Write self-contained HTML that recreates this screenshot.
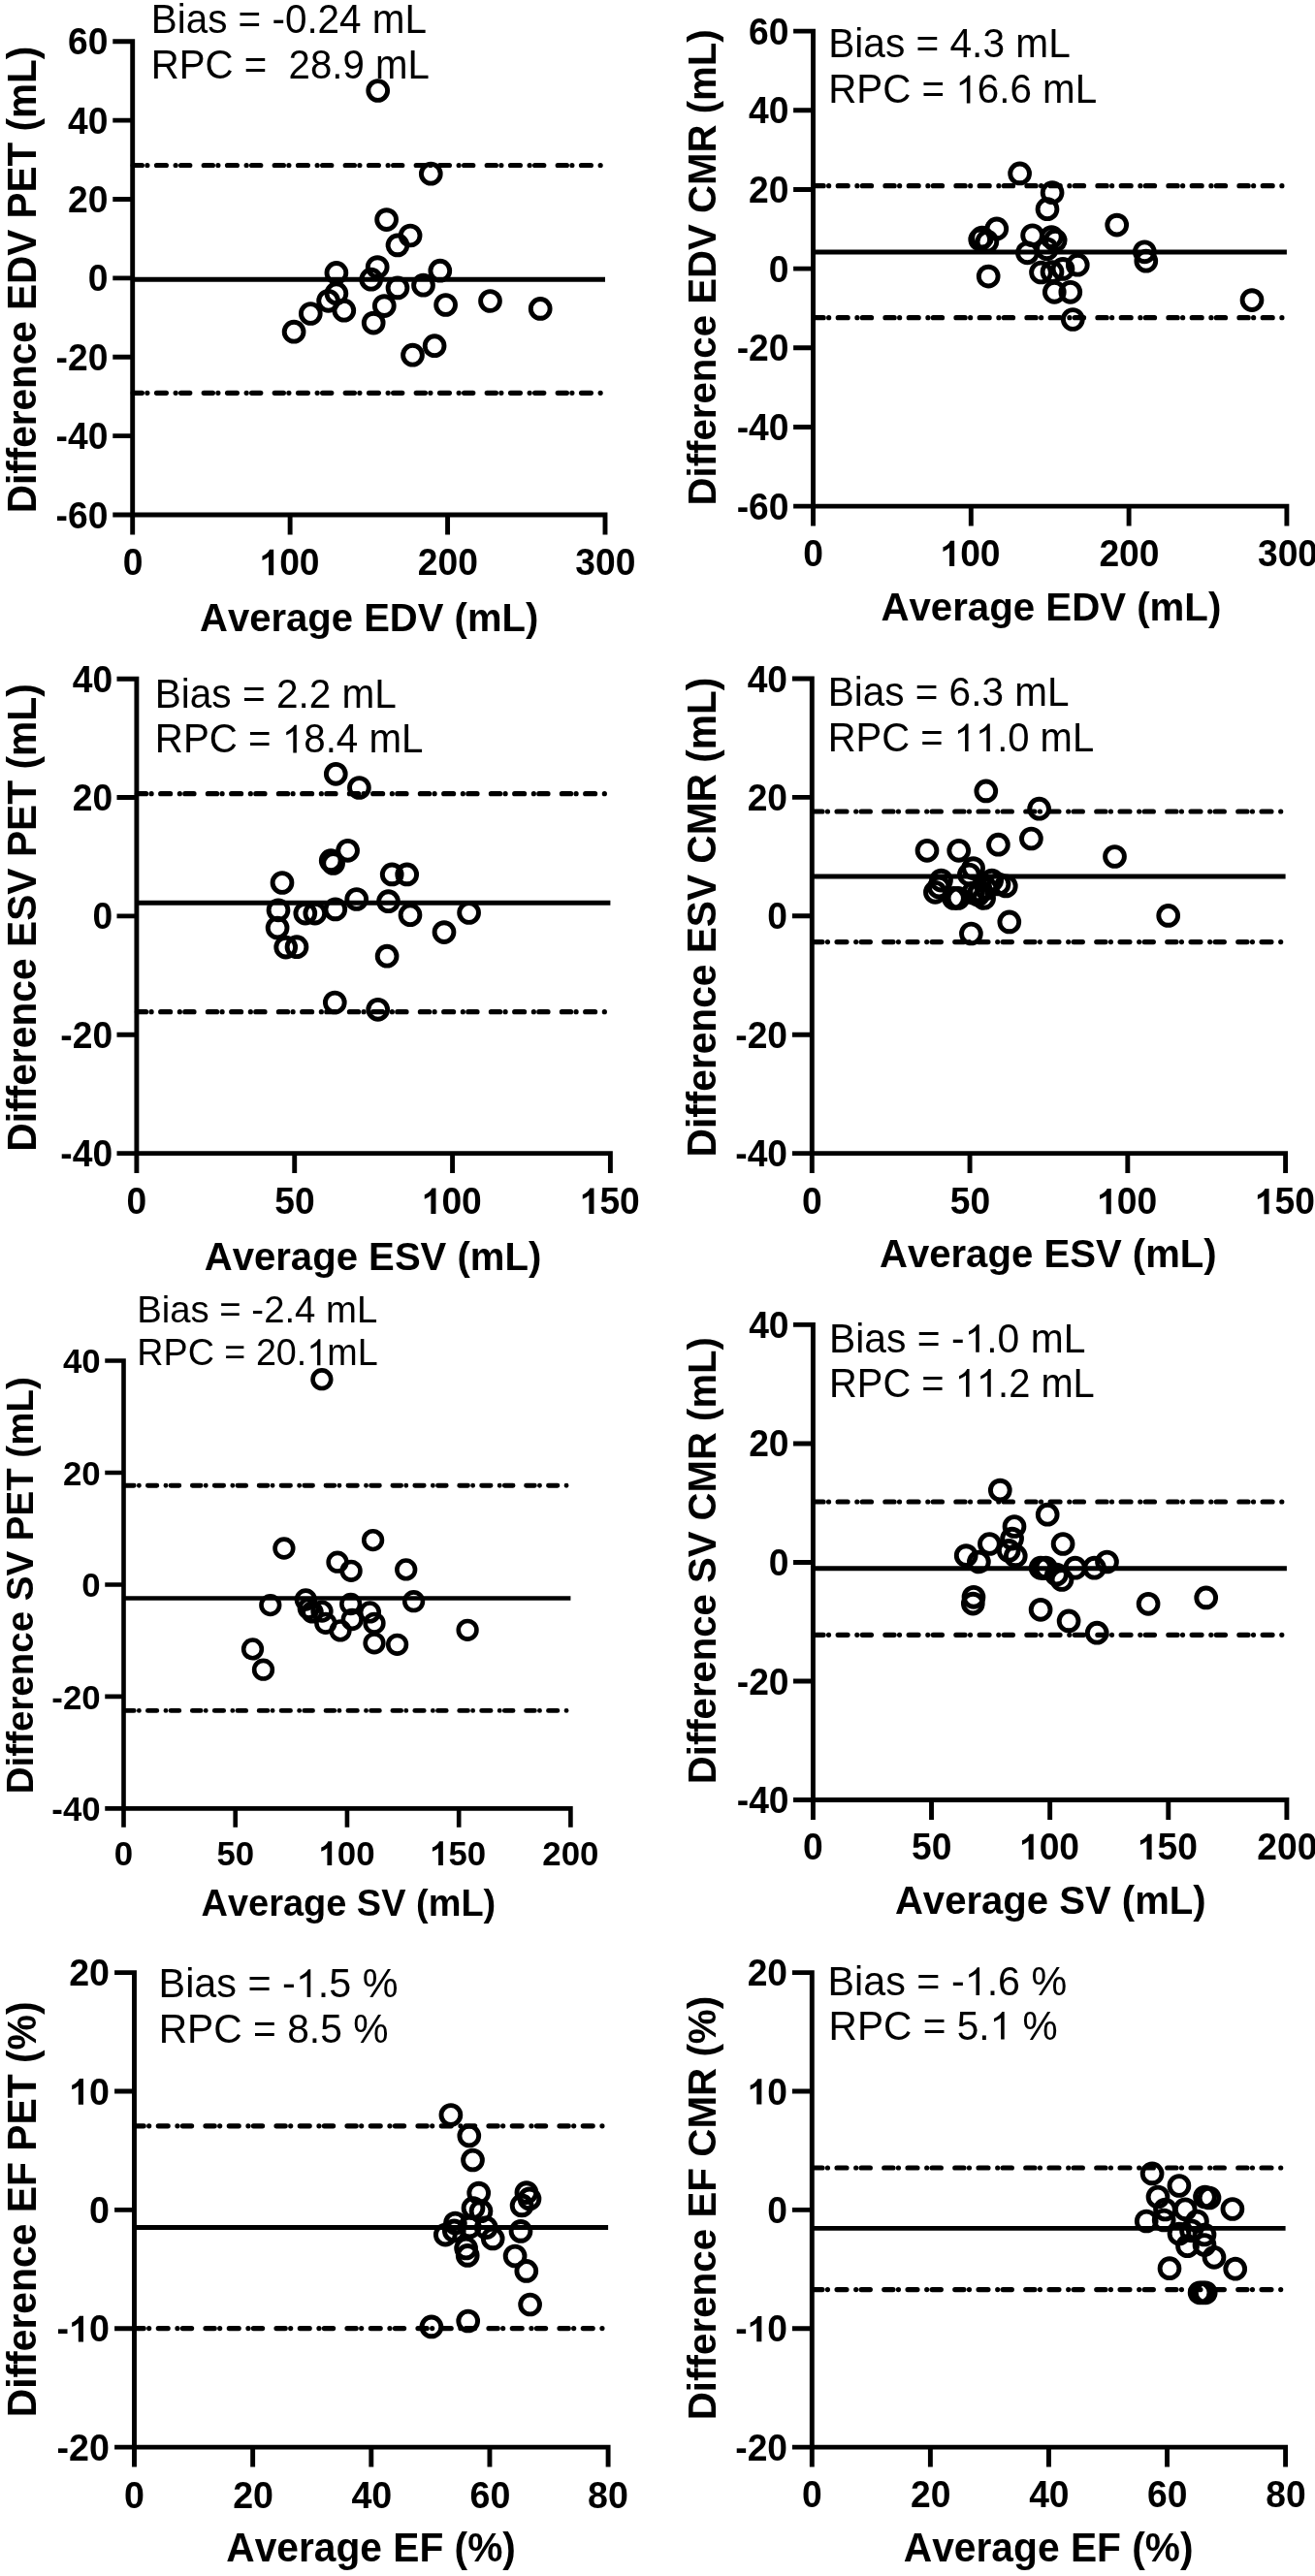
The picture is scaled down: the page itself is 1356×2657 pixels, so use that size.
<!DOCTYPE html>
<html><head><meta charset="utf-8"><title>Bland-Altman plots</title>
<style>
html,body{margin:0;padding:0;background:#fff;}
body{width:1356px;height:2657px;overflow:hidden;}
svg{display:block;filter:grayscale(100%);}
text{font-family:"Liberation Sans",sans-serif;fill:#000;}
</style></head><body>
<svg width="1356" height="2657" viewBox="0 0 1356 2657">
<rect width="1356" height="2657" fill="#fff"/>
<g id="shapes">
<path d="M116.3 42.8H136.7V551.4M116.3 531H624V551.4M116.3 124.17H136.7M116.3 205.53H136.7M116.3 286.9H136.7M116.3 368.27H136.7M116.3 449.63H136.7M299.13 531V551.4M461.57 531V551.4" fill="none" stroke="#000" stroke-width="4.9" stroke-linejoin="miter" stroke-linecap="butt"/>
<path d="M136.7 288.2H624" stroke="#000" stroke-width="4.9"/>
<path d="M136.7 170.5H622" stroke="#000" stroke-width="5.2" stroke-linecap="round" stroke-dasharray="9.2 5.5 0 9.6 9.9 9.75 0 5.45 9.2 14.4" stroke-dashoffset="72.5" fill="none"/>
<path d="M136.7 405.3H622" stroke="#000" stroke-width="5.2" stroke-linecap="round" stroke-dasharray="9.2 5.5 0 9.6 9.9 9.75 0 5.45 9.2 14.4" stroke-dashoffset="72.5" fill="none"/>
<g fill="none" stroke="#000" stroke-width="4.9"><circle cx="389.7" cy="93.5" r="9.9"/><circle cx="444.3" cy="179.2" r="9.9"/><circle cx="398.6" cy="226.6" r="9.9"/><circle cx="423.1" cy="243" r="9.9"/><circle cx="410" cy="252.9" r="9.9"/><circle cx="346.9" cy="281.4" r="9.9"/><circle cx="389.2" cy="275.6" r="9.9"/><circle cx="382.7" cy="288.2" r="9.9"/><circle cx="453.8" cy="279.2" r="9.9"/><circle cx="410" cy="296.9" r="9.9"/><circle cx="436.5" cy="294.2" r="9.9"/><circle cx="346.9" cy="302.7" r="9.9"/><circle cx="338.6" cy="310.3" r="9.9"/><circle cx="320.3" cy="323.5" r="9.9"/><circle cx="354.8" cy="320.2" r="9.9"/><circle cx="396.3" cy="315.6" r="9.9"/><circle cx="459.6" cy="314.5" r="9.9"/><circle cx="303.1" cy="342.2" r="9.9"/><circle cx="385.2" cy="333.1" r="9.9"/><circle cx="448.1" cy="356.7" r="9.9"/><circle cx="425.5" cy="366.2" r="9.9"/><circle cx="505.5" cy="310.5" r="9.9"/><circle cx="557.2" cy="318.4" r="9.9"/></g>
<path d="M818.1 32.1H838.5V542.5M818.1 522.1H1326.9V542.5M818.1 113.77H838.5M818.1 195.43H838.5M818.1 277.1H838.5M818.1 358.77H838.5M818.1 440.43H838.5M1001.3 522.1V542.5M1164.1 522.1V542.5" fill="none" stroke="#000" stroke-width="4.9" stroke-linejoin="miter" stroke-linecap="butt"/>
<path d="M838.5 260H1326.9" stroke="#000" stroke-width="4.9"/>
<path d="M838.5 191.7H1324.9" stroke="#000" stroke-width="5.2" stroke-linecap="round" stroke-dasharray="9.2 5.5 0 9.6 9.9 9.75 0 5.45 9.2 14.4" stroke-dashoffset="71.55" fill="none"/>
<path d="M838.5 327.7H1324.9" stroke="#000" stroke-width="5.2" stroke-linecap="round" stroke-dasharray="9.2 5.5 0 9.6 9.9 9.75 0 5.45 9.2 14.4" stroke-dashoffset="71.55" fill="none"/>
<g fill="none" stroke="#000" stroke-width="4.9"><circle cx="1051.6" cy="178.9" r="9.9"/><circle cx="1085.1" cy="198.7" r="9.9"/><circle cx="1080" cy="215.7" r="9.9"/><circle cx="1027.8" cy="235.9" r="9.9"/><circle cx="1151.7" cy="232.1" r="9.9"/><circle cx="1010.7" cy="247" r="9.9"/><circle cx="1012.6" cy="245" r="9.9"/><circle cx="1017.9" cy="249.2" r="9.9"/><circle cx="1064.6" cy="242.8" r="9.9"/><circle cx="1084.3" cy="244.6" r="9.9"/><circle cx="1088.2" cy="248.1" r="9.9"/><circle cx="1079.5" cy="256.8" r="9.9"/><circle cx="1059.4" cy="260.8" r="9.9"/><circle cx="1019.2" cy="285.1" r="9.9"/><circle cx="1073.5" cy="281" r="9.9"/><circle cx="1085" cy="280.5" r="9.9"/><circle cx="1096" cy="277.4" r="9.9"/><circle cx="1111.3" cy="273.2" r="9.9"/><circle cx="1087.3" cy="301.3" r="9.9"/><circle cx="1103.8" cy="301.3" r="9.9"/><circle cx="1106.3" cy="329.5" r="9.9"/><circle cx="1180.3" cy="259.8" r="9.9"/><circle cx="1181.8" cy="269.2" r="9.9"/><circle cx="1291" cy="309.6" r="9.9"/></g>
<path d="M120.5 700.2H140.9V1210M120.5 1189.6H629.4V1210M120.5 822.55H140.9M120.5 944.9H140.9M120.5 1067.25H140.9M303.73 1189.6V1210M466.57 1189.6V1210" fill="none" stroke="#000" stroke-width="4.9" stroke-linejoin="miter" stroke-linecap="butt"/>
<path d="M140.9 931.3H629.4" stroke="#000" stroke-width="4.9"/>
<path d="M140.9 818.7H627.4" stroke="#000" stroke-width="5.2" stroke-linecap="round" stroke-dasharray="9.2 5.5 0 9.6 9.9 9.75 0 5.45 9.2 14.4" stroke-dashoffset="72.5" fill="none"/>
<path d="M140.9 1043.7H627.4" stroke="#000" stroke-width="5.2" stroke-linecap="round" stroke-dasharray="9.2 5.5 0 9.6 9.9 9.75 0 5.45 9.2 14.4" stroke-dashoffset="72.5" fill="none"/>
<g fill="none" stroke="#000" stroke-width="4.9"><circle cx="346.3" cy="798.3" r="9.9"/><circle cx="370.4" cy="812.5" r="9.9"/><circle cx="358.6" cy="877.3" r="9.9"/><circle cx="341.2" cy="887.7" r="9.9"/><circle cx="343.6" cy="890.4" r="9.9"/><circle cx="291" cy="910.5" r="9.9"/><circle cx="404.2" cy="901.9" r="9.9"/><circle cx="419.7" cy="901.9" r="9.9"/><circle cx="367.7" cy="927.5" r="9.9"/><circle cx="400.5" cy="929.7" r="9.9"/><circle cx="287" cy="938.8" r="9.9"/><circle cx="314.8" cy="942.1" r="9.9"/><circle cx="324.8" cy="942.1" r="9.9"/><circle cx="345.8" cy="937.9" r="9.9"/><circle cx="423" cy="943.7" r="9.9"/><circle cx="483.6" cy="941.5" r="9.9"/><circle cx="286.1" cy="957" r="9.9"/><circle cx="458" cy="961.6" r="9.9"/><circle cx="294.7" cy="977.1" r="9.9"/><circle cx="306" cy="976.7" r="9.9"/><circle cx="399.1" cy="986.2" r="9.9"/><circle cx="345.3" cy="1034" r="9.9"/><circle cx="389.7" cy="1041.3" r="9.9"/></g>
<path d="M816.9 700H837.3V1210M816.9 1189.6H1325.6V1210M816.9 822.4H837.3M816.9 944.8H837.3M816.9 1067.2H837.3M1000.07 1189.6V1210M1162.83 1189.6V1210" fill="none" stroke="#000" stroke-width="4.9" stroke-linejoin="miter" stroke-linecap="butt"/>
<path d="M837.3 904H1325.6" stroke="#000" stroke-width="4.9"/>
<path d="M837.3 837H1323.6" stroke="#000" stroke-width="5.2" stroke-linecap="round" stroke-dasharray="9.2 5.5 0 9.6 9.9 9.75 0 5.45 9.2 14.4" stroke-dashoffset="71.55" fill="none"/>
<path d="M837.3 971.6H1323.6" stroke="#000" stroke-width="5.2" stroke-linecap="round" stroke-dasharray="9.2 5.5 0 9.6 9.9 9.75 0 5.45 9.2 14.4" stroke-dashoffset="71.55" fill="none"/>
<g fill="none" stroke="#000" stroke-width="4.9"><circle cx="1016.8" cy="815.9" r="9.9"/><circle cx="1071.6" cy="834.2" r="9.9"/><circle cx="956" cy="877.3" r="9.9"/><circle cx="988.7" cy="877.3" r="9.9"/><circle cx="1029.4" cy="871.2" r="9.9"/><circle cx="1063.4" cy="865" r="9.9"/><circle cx="1003.6" cy="895.6" r="9.9"/><circle cx="999.4" cy="902" r="9.9"/><circle cx="970.5" cy="908.1" r="9.9"/><circle cx="968.3" cy="915" r="9.9"/><circle cx="964.4" cy="920.3" r="9.9"/><circle cx="983.5" cy="926.4" r="9.9"/><circle cx="988" cy="926.4" r="9.9"/><circle cx="1022.7" cy="908.1" r="9.9"/><circle cx="1037.3" cy="913.9" r="9.9"/><circle cx="1014.6" cy="926.4" r="9.9"/><circle cx="1010.8" cy="919.5" r="9.9"/><circle cx="1003.5" cy="921" r="9.9"/><circle cx="1008.5" cy="923" r="9.9"/><circle cx="1017" cy="916.5" r="9.9"/><circle cx="1030" cy="912" r="9.9"/><circle cx="1040.8" cy="950.9" r="9.9"/><circle cx="1001.4" cy="963" r="9.9"/><circle cx="1149.5" cy="883.5" r="9.9"/><circle cx="1204.7" cy="944.4" r="9.9"/></g>
<path d="M108.26 1403.5H127.5V1884.64M108.26 1865.4H588.4V1884.64M108.26 1518.97H127.5M108.26 1634.45H127.5M108.26 1749.93H127.5M242.72 1865.4V1884.64M357.95 1865.4V1884.64M473.18 1865.4V1884.64" fill="none" stroke="#000" stroke-width="4.62" stroke-linejoin="miter" stroke-linecap="butt"/>
<path d="M127.5 1648.5H588.4" stroke="#000" stroke-width="4.62"/>
<path d="M127.5 1532.2H586.51" stroke="#000" stroke-width="4.9" stroke-linecap="round" stroke-dasharray="8.68 5.19 0 9.05 9.34 9.19 0 5.14 8.68 13.58" stroke-dashoffset="66.84" fill="none"/>
<path d="M127.5 1764.4H586.51" stroke="#000" stroke-width="4.9" stroke-linecap="round" stroke-dasharray="8.68 5.19 0 9.05 9.34 9.19 0 5.14 8.68 13.58" stroke-dashoffset="66.84" fill="none"/>
<g fill="none" stroke="#000" stroke-width="4.62"><circle cx="331.9" cy="1422.7" r="9.34"/><circle cx="292.9" cy="1597" r="9.34"/><circle cx="384.6" cy="1588.6" r="9.34"/><circle cx="348" cy="1611.2" r="9.34"/><circle cx="362.1" cy="1620.3" r="9.34"/><circle cx="418.7" cy="1618.9" r="9.34"/><circle cx="278.8" cy="1655.6" r="9.34"/><circle cx="315.3" cy="1650" r="9.34"/><circle cx="318.3" cy="1659.1" r="9.34"/><circle cx="322.1" cy="1662.9" r="9.34"/><circle cx="332" cy="1662.1" r="9.34"/><circle cx="361.7" cy="1654.5" r="9.34"/><circle cx="335.8" cy="1674.3" r="9.34"/><circle cx="351" cy="1681.9" r="9.34"/><circle cx="363.2" cy="1670.5" r="9.34"/><circle cx="381.4" cy="1662.9" r="9.34"/><circle cx="386" cy="1674.3" r="9.34"/><circle cx="386" cy="1694.8" r="9.34"/><circle cx="409.6" cy="1696.3" r="9.34"/><circle cx="426.6" cy="1651.7" r="9.34"/><circle cx="260.5" cy="1700.9" r="9.34"/><circle cx="271.5" cy="1722.2" r="9.34"/><circle cx="482.1" cy="1681.3" r="9.34"/></g>
<path d="M818 1366.4H838.4V1876.9M818 1856.5H1326.9V1876.9M818 1488.93H838.4M818 1611.45H838.4M818 1733.97H838.4M960.52 1856.5V1876.9M1082.65 1856.5V1876.9M1204.78 1856.5V1876.9" fill="none" stroke="#000" stroke-width="4.9" stroke-linejoin="miter" stroke-linecap="butt"/>
<path d="M838.4 1617.7H1326.9" stroke="#000" stroke-width="4.9"/>
<path d="M838.4 1549H1324.9" stroke="#000" stroke-width="5.2" stroke-linecap="round" stroke-dasharray="9.2 5.5 0 9.6 9.9 9.75 0 5.45 9.2 14.4" stroke-dashoffset="71.55" fill="none"/>
<path d="M838.4 1686.3H1324.9" stroke="#000" stroke-width="5.2" stroke-linecap="round" stroke-dasharray="9.2 5.5 0 9.6 9.9 9.75 0 5.45 9.2 14.4" stroke-dashoffset="71.55" fill="none"/>
<g fill="none" stroke="#000" stroke-width="4.9"><circle cx="1031.3" cy="1537.1" r="9.9"/><circle cx="1080.2" cy="1562.2" r="9.9"/><circle cx="1046" cy="1574.5" r="9.9"/><circle cx="1043.6" cy="1587.1" r="9.9"/><circle cx="1040.2" cy="1599.4" r="9.9"/><circle cx="1047.3" cy="1604.9" r="9.9"/><circle cx="1020.4" cy="1592.5" r="9.9"/><circle cx="996.2" cy="1604.6" r="9.9"/><circle cx="1009.4" cy="1611" r="9.9"/><circle cx="1096.1" cy="1592.5" r="9.9"/><circle cx="1073.1" cy="1617.2" r="9.9"/><circle cx="1075.8" cy="1617.6" r="9.9"/><circle cx="1078.5" cy="1617.2" r="9.9"/><circle cx="1089.5" cy="1624" r="9.9"/><circle cx="1095" cy="1629.5" r="9.9"/><circle cx="1108.7" cy="1617.2" r="9.9"/><circle cx="1128.5" cy="1617.2" r="9.9"/><circle cx="1141.5" cy="1611" r="9.9"/><circle cx="1004" cy="1647.3" r="9.9"/><circle cx="1003.3" cy="1654.1" r="9.9"/><circle cx="1073.1" cy="1660.3" r="9.9"/><circle cx="1102.1" cy="1671.9" r="9.9"/><circle cx="1131.2" cy="1684.2" r="9.9"/><circle cx="1184.1" cy="1654.3" r="9.9"/><circle cx="1243.7" cy="1647.9" r="9.9"/></g>
<path d="M118.1 2034.6H138.5V2544.5M118.1 2524.1H627.1V2544.5M118.1 2156.97H138.5M118.1 2279.35H138.5M118.1 2401.72H138.5M260.65 2524.1V2544.5M382.8 2524.1V2544.5M504.95 2524.1V2544.5" fill="none" stroke="#000" stroke-width="4.9" stroke-linejoin="miter" stroke-linecap="butt"/>
<path d="M138.5 2297.5H627.1" stroke="#000" stroke-width="4.9"/>
<path d="M138.5 2192.8H625.1" stroke="#000" stroke-width="5.2" stroke-linecap="round" stroke-dasharray="9.2 5.5 0 9.6 9.9 9.75 0 5.45 9.2 14.4" stroke-dashoffset="72.5" fill="none"/>
<path d="M138.5 2401.6H625.1" stroke="#000" stroke-width="5.2" stroke-linecap="round" stroke-dasharray="9.2 5.5 0 9.6 9.9 9.75 0 5.45 9.2 14.4" stroke-dashoffset="72.5" fill="none"/>
<g fill="none" stroke="#000" stroke-width="4.9"><circle cx="464.9" cy="2181.5" r="9.9"/><circle cx="483.8" cy="2203" r="9.9"/><circle cx="487.5" cy="2228" r="9.9"/><circle cx="493.7" cy="2262.1" r="9.9"/><circle cx="488" cy="2277.5" r="9.9"/><circle cx="496" cy="2280.7" r="9.9"/><circle cx="542.9" cy="2261.6" r="9.9"/><circle cx="546" cy="2267.9" r="9.9"/><circle cx="538.1" cy="2274.9" r="9.9"/><circle cx="469.4" cy="2293" r="9.9"/><circle cx="459.3" cy="2305.1" r="9.9"/><circle cx="468.3" cy="2300.9" r="9.9"/><circle cx="484.3" cy="2297" r="9.9"/><circle cx="501.3" cy="2297.7" r="9.9"/><circle cx="508.2" cy="2308.9" r="9.9"/><circle cx="480.6" cy="2319" r="9.9"/><circle cx="482.2" cy="2326.4" r="9.9"/><circle cx="537" cy="2301.4" r="9.9"/><circle cx="531.1" cy="2327" r="9.9"/><circle cx="542.8" cy="2342.4" r="9.9"/><circle cx="546.6" cy="2377" r="9.9"/><circle cx="482.7" cy="2394" r="9.9"/><circle cx="444.9" cy="2399.9" r="9.9"/></g>
<path d="M816.9 2034.6H837.3V2544.5M816.9 2524.1H1325.6V2544.5M816.9 2156.97H837.3M816.9 2279.35H837.3M816.9 2401.72H837.3M959.38 2524.1V2544.5M1081.45 2524.1V2544.5M1203.52 2524.1V2544.5" fill="none" stroke="#000" stroke-width="4.9" stroke-linejoin="miter" stroke-linecap="butt"/>
<path d="M837.3 2298.4H1325.6" stroke="#000" stroke-width="4.9"/>
<path d="M837.3 2236H1323.6" stroke="#000" stroke-width="5.2" stroke-linecap="round" stroke-dasharray="9.2 5.5 0 9.6 9.9 9.75 0 5.45 9.2 14.4" stroke-dashoffset="71.55" fill="none"/>
<path d="M837.3 2361.6H1323.6" stroke="#000" stroke-width="5.2" stroke-linecap="round" stroke-dasharray="9.2 5.5 0 9.6 9.9 9.75 0 5.45 9.2 14.4" stroke-dashoffset="71.55" fill="none"/>
<g fill="none" stroke="#000" stroke-width="4.9"><circle cx="1188.1" cy="2241.9" r="9.9"/><circle cx="1215.9" cy="2254.5" r="9.9"/><circle cx="1194" cy="2266" r="9.9"/><circle cx="1270.9" cy="2278.5" r="9.9"/><circle cx="1242.5" cy="2266" r="9.9"/><circle cx="1247" cy="2267" r="9.9"/><circle cx="1182.2" cy="2291" r="9.9"/><circle cx="1201.5" cy="2279" r="9.9"/><circle cx="1222.2" cy="2278.8" r="9.9"/><circle cx="1200.2" cy="2290" r="9.9"/><circle cx="1234.5" cy="2291" r="9.9"/><circle cx="1216" cy="2304" r="9.9"/><circle cx="1228.5" cy="2300.8" r="9.9"/><circle cx="1242" cy="2305" r="9.9"/><circle cx="1224.5" cy="2316.7" r="9.9"/><circle cx="1242" cy="2315.5" r="9.9"/><circle cx="1252" cy="2328.3" r="9.9"/><circle cx="1206" cy="2339.7" r="9.9"/><circle cx="1273.7" cy="2340.2" r="9.9"/><circle cx="1237.1" cy="2364.8" r="9.9"/><circle cx="1240.2" cy="2364.8" r="9.9"/><circle cx="1243.2" cy="2364.8" r="9.9"/></g>
</g>
<g id="texts">
<g id="p1_yt60" transform="translate(71.31 56.36) scale(1.0000 1.03)"><text x="-1.36 19.33" y="0" font-weight="bold" font-size="37.2">60</text></g>
<g id="p1_yt40" transform="translate(70.51 137.73) scale(1.0000 1.03)"><text x="-0.56 20.13" y="0" font-weight="bold" font-size="37.2">40</text></g>
<g id="p1_yt20" transform="translate(71.24 219.09) scale(1.0000 1.03)"><text x="-1.29 19.4" y="0" font-weight="bold" font-size="37.2">20</text></g>
<g id="p1_yt0" transform="translate(92.11 300.46) scale(1.0000 1.03)"><text x="-1.47" y="0" font-weight="bold" font-size="37.2">0</text></g>
<g id="p1_yt-20" transform="translate(59.01 381.83) scale(1.0000 1.03)"><text x="-1.45 10.93 31.62" y="0" font-weight="bold" font-size="37.2">-20</text></g>
<g id="p1_yt-40" transform="translate(59.01 463.19) scale(1.0000 1.03)"><text x="-1.45 10.93 31.62" y="0" font-weight="bold" font-size="37.2">-40</text></g>
<g id="p1_yt-60" transform="translate(59.01 544.56) scale(1.0000 1.03)"><text x="-1.45 10.93 31.62" y="0" font-weight="bold" font-size="37.2">-60</text></g>
<g id="p1_xt0" transform="translate(128.25 593.14) scale(1.0000 1.03)"><text x="-1.47" y="0" font-weight="bold" font-size="37.2">0</text></g>
<g id="p1_xt100" transform="translate(269.8 593.14) scale(1.0000 1.03)"><text x="-2.34 18.35 39.03" y="0" font-weight="bold" font-size="37.2">&#160;00</text><path d="M12.37 0L7.27 0L7.27 -18.4Q4.47 -15.91 0.67 -14.71L0.67 -19.14Q2.67 -19.76 5.01 -21.51Q7.36 -23.25 8.23 -25.56L12.37 -25.56Z"/></g>
<g id="p1_xt200" transform="translate(432.07 593.14) scale(1.0000 1.03)"><text x="-1.29 19.4 40.09" y="0" font-weight="bold" font-size="37.2">200</text></g>
<g id="p1_xt300" transform="translate(594.16 593.14) scale(1.0000 1.03)"><text x="-0.85 19.84 40.52" y="0" font-weight="bold" font-size="37.2">300</text></g>
<g id="p1_xl" transform="translate(207.1 650.5) scale(1.0023 1.03)"><text x="-0.99 27.84 50.05 72.26 87.8 110.01 134.4 156.6 167.7 194.33 223.17 249.8 260.9 274.19 309.7 334.09" y="0" font-weight="bold" font-size="39.93">Average&#160;EDV&#160;(mL)</text></g>
<g id="p1_yl" transform="translate(37.3 526.6) rotate(-90) scale(0.9996 1.03)"><text x="-2.71 26.54 37.79 51.28 64.77 87.3 103.06 125.58 150.32 172.85 195.38 206.63 233.64 262.89 289.91 301.16 328.18 355.19 379.93 391.19 404.67 440.69 465.43" y="0" font-weight="bold" font-size="40.5">Difference&#160;EDV&#160;PET&#160;(mL)</text></g>
<g id="p1_t1" transform="translate(159 33.6) scale(1.0010 1.03)"><text x="-3.31 23.63 32.61 55.08 75.28 86.5 110.09 121.32 134.77 157.24 168.46 190.93 213.4 224.63 258.28" y="0" font-weight="normal" font-size="40.4">Bias&#160;=&#160;-0.24&#160;mL</text></g>
<g id="p1_t2" transform="translate(159 80.8) scale(0.9948 1.03)"><text x="-3.31 25.86 52.81 81.98 93.21 116.8 128.03 139.25 161.72 184.19 195.41 217.88 229.1 262.76" y="0" font-weight="normal" font-size="40.4">RPC&#160;=&#160;&#160;28.9&#160;mL</text></g>
<g id="p2_yt60" transform="translate(773.41 45.66) scale(1.0000 1.03)"><text x="-1.36 19.33" y="0" font-weight="bold" font-size="37.2">60</text></g>
<g id="p2_yt40" transform="translate(772.61 127.33) scale(1.0000 1.03)"><text x="-0.56 20.13" y="0" font-weight="bold" font-size="37.2">40</text></g>
<g id="p2_yt20" transform="translate(773.34 208.99) scale(1.0000 1.03)"><text x="-1.29 19.4" y="0" font-weight="bold" font-size="37.2">20</text></g>
<g id="p2_yt0" transform="translate(794.21 290.66) scale(1.0000 1.03)"><text x="-1.47" y="0" font-weight="bold" font-size="37.2">0</text></g>
<g id="p2_yt-20" transform="translate(761.11 372.33) scale(1.0000 1.03)"><text x="-1.45 10.93 31.62" y="0" font-weight="bold" font-size="37.2">-20</text></g>
<g id="p2_yt-40" transform="translate(761.11 453.99) scale(1.0000 1.03)"><text x="-1.45 10.93 31.62" y="0" font-weight="bold" font-size="37.2">-40</text></g>
<g id="p2_yt-60" transform="translate(761.11 535.66) scale(1.0000 1.03)"><text x="-1.45 10.93 31.62" y="0" font-weight="bold" font-size="37.2">-60</text></g>
<g id="p2_xt0" transform="translate(829.65 584.04) scale(1.0000 1.03)"><text x="-1.47" y="0" font-weight="bold" font-size="37.2">0</text></g>
<g id="p2_xt100" transform="translate(971.8 584.04) scale(1.0000 1.03)"><text x="-2.34 18.35 39.03" y="0" font-weight="bold" font-size="37.2">&#160;00</text><path d="M12.37 0L7.27 0L7.27 -18.4Q4.47 -15.91 0.67 -14.71L0.67 -19.14Q2.67 -19.76 5.01 -21.51Q7.36 -23.25 8.23 -25.56L12.37 -25.56Z"/></g>
<g id="p2_xt200" transform="translate(1134.67 584.04) scale(1.0000 1.03)"><text x="-1.29 19.4 40.09" y="0" font-weight="bold" font-size="37.2">200</text></g>
<g id="p2_xt300" transform="translate(1297.86 584.04) scale(1.0000 1.03)"><text x="-0.85 19.84 40.52" y="0" font-weight="bold" font-size="37.2">300</text></g>
<g id="p2_xl" transform="translate(909.4 640.2) scale(1.0017 1.03)"><text x="-1 28 50.33 72.66 88.28 110.61 135.14 157.47 168.62 195.4 224.4 251.18 262.33 275.7 311.4 335.93" y="0" font-weight="bold" font-size="40.15">Average&#160;EDV&#160;(mL)</text></g>
<g id="p2_yl" transform="translate(738 518.8) rotate(-90) scale(1.0000 1.03)"><text x="-2.69 26.33 37.5 50.88 64.26 86.61 102.24 124.59 149.14 171.49 193.83 205 231.8 260.82 287.62 298.79 327.81 361.28 390.3 401.46 414.84 450.57 475.12" y="0" font-weight="bold" font-size="40.18">Difference&#160;EDV&#160;CMR&#160;(mL)</text></g>
<g id="p2_t1" transform="translate(857.5 59.4) scale(1.0058 1.03)"><text x="-3.31 23.63 32.61 55.08 75.28 86.5 110.09 121.32 143.79 155.01 177.48 188.7 222.36" y="0" font-weight="normal" font-size="40.4">Bias&#160;=&#160;4.3&#160;mL</text></g>
<g id="p2_t2" transform="translate(857.5 106.4) scale(0.9987 1.03)"><text x="-3.31 25.86 52.81 81.98 93.21 116.8 128.03 150.49 172.96 184.19 206.66 217.88 251.53" y="0" font-weight="normal" font-size="40.4">RPC&#160;=&#160;&#160;6.6&#160;mL</text><path d="M143.08 0L139.53 0L139.53 -21.66Q138.24 -20.48 136.15 -19.31Q134.08 -18.15 132.42 -17.56L132.42 -20.85Q135.4 -22.17 137.63 -24.09Q139.86 -26 140.79 -27.79L143.08 -27.79Z"/></g>
<g id="p3_yt40" transform="translate(75.31 713.76) scale(1.0000 1.03)"><text x="-0.56 20.13" y="0" font-weight="bold" font-size="37.2">40</text></g>
<g id="p3_yt20" transform="translate(76.04 836.11) scale(1.0000 1.03)"><text x="-1.29 19.4" y="0" font-weight="bold" font-size="37.2">20</text></g>
<g id="p3_yt0" transform="translate(96.91 958.46) scale(1.0000 1.03)"><text x="-1.47" y="0" font-weight="bold" font-size="37.2">0</text></g>
<g id="p3_yt-20" transform="translate(63.81 1080.81) scale(1.0000 1.03)"><text x="-1.45 10.93 31.62" y="0" font-weight="bold" font-size="37.2">-20</text></g>
<g id="p3_yt-40" transform="translate(63.81 1203.16) scale(1.0000 1.03)"><text x="-1.45 10.93 31.62" y="0" font-weight="bold" font-size="37.2">-40</text></g>
<g id="p3_xt0" transform="translate(131.85 1251.94) scale(1.0000 1.03)"><text x="-1.47" y="0" font-weight="bold" font-size="37.2">0</text></g>
<g id="p3_xt50" transform="translate(284.35 1251.94) scale(1.0000 1.03)"><text x="-1.14 19.54" y="0" font-weight="bold" font-size="37.2">50</text></g>
<g id="p3_xt100" transform="translate(437.1 1251.94) scale(1.0000 1.03)"><text x="-2.34 18.35 39.03" y="0" font-weight="bold" font-size="37.2">&#160;00</text><path d="M12.37 0L7.27 0L7.27 -18.4Q4.47 -15.91 0.67 -14.71L0.67 -19.14Q2.67 -19.76 5.01 -21.51Q7.36 -23.25 8.23 -25.56L12.37 -25.56Z"/></g>
<g id="p3_xt150" transform="translate(600.1 1251.94) scale(1.0000 1.03)"><text x="-2.34 18.35 39.03" y="0" font-weight="bold" font-size="37.2">&#160;50</text><path d="M12.37 0L7.27 0L7.27 -18.4Q4.47 -15.91 0.67 -14.71L0.67 -19.14Q2.67 -19.76 5.01 -21.51Q7.36 -23.25 8.23 -25.56L12.37 -25.56Z"/></g>
<g id="p3_xl" transform="translate(211.7 1309.6) scale(0.9994 1.03)"><text x="-1 27.98 50.3 72.62 88.23 110.55 135.06 157.38 168.53 195.3 222.06 248.83 259.98 273.34 309.02 333.54" y="0" font-weight="bold" font-size="40.13">Average&#160;ESV&#160;(mL)</text></g>
<g id="p3_yl" transform="translate(37.2 1185) rotate(-90) scale(1.0004 1.03)"><text x="-2.73 26.7 38.03 51.6 65.17 87.83 103.69 126.36 151.25 173.92 196.58 207.91 235.09 262.27 289.45 300.78 327.96 355.14 380.03 391.36 404.93 441.16 466.06" y="0" font-weight="bold" font-size="40.75">Difference&#160;ESV&#160;PET&#160;(mL)</text></g>
<g id="p3_t1" transform="translate(163.1 730.2) scale(1.0038 1.03)"><text x="-3.31 23.63 32.61 55.08 75.28 86.5 110.09 121.32 143.79 155.01 177.48 188.7 222.36" y="0" font-weight="normal" font-size="40.4">Bias&#160;=&#160;2.2&#160;mL</text></g>
<g id="p3_t2" transform="translate(163.1 776.4) scale(0.9976 1.03)"><text x="-3.31 25.86 52.81 81.98 93.21 116.8 128.03 150.49 172.96 184.19 206.66 217.88 251.53" y="0" font-weight="normal" font-size="40.4">RPC&#160;=&#160;&#160;8.4&#160;mL</text><path d="M143.08 0L139.53 0L139.53 -21.66Q138.24 -20.48 136.15 -19.31Q134.08 -18.15 132.42 -17.56L132.42 -20.85Q135.4 -22.17 137.63 -24.09Q139.86 -26 140.79 -27.79L143.08 -27.79Z"/></g>
<g id="p4_yt40" transform="translate(771.21 713.56) scale(1.0000 1.03)"><text x="-0.56 20.13" y="0" font-weight="bold" font-size="37.2">40</text></g>
<g id="p4_yt20" transform="translate(771.94 835.96) scale(1.0000 1.03)"><text x="-1.29 19.4" y="0" font-weight="bold" font-size="37.2">20</text></g>
<g id="p4_yt0" transform="translate(792.81 958.36) scale(1.0000 1.03)"><text x="-1.47" y="0" font-weight="bold" font-size="37.2">0</text></g>
<g id="p4_yt-20" transform="translate(759.71 1080.76) scale(1.0000 1.03)"><text x="-1.45 10.93 31.62" y="0" font-weight="bold" font-size="37.2">-20</text></g>
<g id="p4_yt-40" transform="translate(759.71 1203.16) scale(1.0000 1.03)"><text x="-1.45 10.93 31.62" y="0" font-weight="bold" font-size="37.2">-40</text></g>
<g id="p4_xt0" transform="translate(828.55 1252.24) scale(1.0000 1.03)"><text x="-1.47" y="0" font-weight="bold" font-size="37.2">0</text></g>
<g id="p4_xt50" transform="translate(980.85 1252.24) scale(1.0000 1.03)"><text x="-1.14 19.54" y="0" font-weight="bold" font-size="37.2">50</text></g>
<g id="p4_xt100" transform="translate(1133.4 1252.24) scale(1.0000 1.03)"><text x="-2.34 18.35 39.03" y="0" font-weight="bold" font-size="37.2">&#160;00</text><path d="M12.37 0L7.27 0L7.27 -18.4Q4.47 -15.91 0.67 -14.71L0.67 -19.14Q2.67 -19.76 5.01 -21.51Q7.36 -23.25 8.23 -25.56L12.37 -25.56Z"/></g>
<g id="p4_xt150" transform="translate(1296.2 1252.24) scale(1.0000 1.03)"><text x="-2.34 18.35 39.03" y="0" font-weight="bold" font-size="37.2">&#160;50</text><path d="M12.37 0L7.27 0L7.27 -18.4Q4.47 -15.91 0.67 -14.71L0.67 -19.14Q2.67 -19.76 5.01 -21.51Q7.36 -23.25 8.23 -25.56L12.37 -25.56Z"/></g>
<g id="p4_xl" transform="translate(907.9 1307.2) scale(1.0006 1.03)"><text x="-1 27.96 50.25 72.55 88.16 110.46 134.95 157.25 168.38 195.13 221.87 248.61 259.75 273.1 308.75 333.25" y="0" font-weight="bold" font-size="40.09">Average&#160;ESV&#160;(mL)</text></g>
<g id="p4_yl" transform="translate(737.5 1190.7) rotate(-90) scale(1.0000 1.03)"><text x="-2.72 26.64 37.94 51.48 65.02 87.63 103.45 126.06 150.9 173.51 196.12 207.42 234.54 261.66 288.77 300.07 329.43 363.3 392.66 403.96 417.5 453.65 478.49" y="0" font-weight="bold" font-size="40.66">Difference&#160;ESV&#160;CMR&#160;(mL)</text></g>
<g id="p4_t1" transform="translate(857 728.4) scale(1.0025 1.03)"><text x="-3.31 23.63 32.61 55.08 75.28 86.5 110.09 121.32 143.79 155.01 177.48 188.7 222.36" y="0" font-weight="normal" font-size="40.4">Bias&#160;=&#160;6.3&#160;mL</text></g>
<g id="p4_t2" transform="translate(857 775) scale(0.9895 1.03)"><text x="-3.31 25.86 52.81 81.98 93.21 116.8 128.03 150.49 172.96 184.19 206.66 217.88 251.53" y="0" font-weight="normal" font-size="40.4">RPC&#160;=&#160;&#160;&#160;.0&#160;mL</text><path d="M143.08 0L139.53 0L139.53 -21.66Q138.24 -20.48 136.15 -19.31Q134.08 -18.15 132.42 -17.56L132.42 -20.85Q135.4 -22.17 137.63 -24.09Q139.86 -26 140.79 -27.79L143.08 -27.79ZM165.55 0L161.99 0L161.99 -21.66Q160.71 -20.48 158.62 -19.31Q156.55 -18.15 154.89 -17.56L154.89 -20.85Q157.87 -22.17 160.1 -24.09Q162.33 -26 163.26 -27.79L165.55 -27.79Z"/></g>
<g id="p5_yt40" transform="translate(65.45 1416.19) scale(1.0000 1.03)"><text x="-0.53 18.83" y="0" font-weight="bold" font-size="34.8">40</text></g>
<g id="p5_yt20" transform="translate(66.13 1531.66) scale(1.0000 1.03)"><text x="-1.21 18.15" y="0" font-weight="bold" font-size="34.8">20</text></g>
<g id="p5_yt0" transform="translate(85.65 1647.14) scale(1.0000 1.03)"><text x="-1.38" y="0" font-weight="bold" font-size="34.8">0</text></g>
<g id="p5_yt-20" transform="translate(54.69 1762.61) scale(1.0000 1.03)"><text x="-1.36 10.23 29.58" y="0" font-weight="bold" font-size="34.8">-20</text></g>
<g id="p5_yt-40" transform="translate(54.69 1878.09) scale(1.0000 1.03)"><text x="-1.36 10.23 29.58" y="0" font-weight="bold" font-size="34.8">-40</text></g>
<g id="p5_xt0" transform="translate(119.22 1923.92) scale(1.0000 1.03)"><text x="-1.38" y="0" font-weight="bold" font-size="34.8">0</text></g>
<g id="p5_xt50" transform="translate(224.57 1923.92) scale(1.0000 1.03)"><text x="-1.07 18.28" y="0" font-weight="bold" font-size="34.8">50</text></g>
<g id="p5_xt100" transform="translate(330.63 1923.92) scale(1.0000 1.03)"><text x="-2.19 17.16 36.52" y="0" font-weight="bold" font-size="34.8">&#160;00</text><path d="M11.57 0L6.8 0L6.8 -17.21Q4.18 -14.89 0.63 -13.76L0.63 -17.91Q2.5 -18.49 4.69 -20.12Q6.88 -21.75 7.7 -23.91L11.57 -23.91Z"/></g>
<g id="p5_xt150" transform="translate(445.3 1923.92) scale(1.0000 1.03)"><text x="-2.19 17.16 36.52" y="0" font-weight="bold" font-size="34.8">&#160;50</text><path d="M11.57 0L6.8 0L6.8 -17.21Q4.18 -14.89 0.63 -13.76L0.63 -17.91Q2.5 -18.49 4.69 -20.12Q6.88 -21.75 7.7 -23.91L11.57 -23.91Z"/></g>
<g id="p5_xt200" transform="translate(560.49 1923.92) scale(1.0000 1.03)"><text x="-1.21 18.15 37.5" y="0" font-weight="bold" font-size="34.8">200</text></g>
<g id="p5_xl" transform="translate(208.5 1976.2) scale(1.0007 1.03)"><text x="-0.94 26.44 47.53 68.61 83.37 104.46 127.62 148.71 159.24 184.53 209.82 220.36 232.99 266.7 289.86" y="0" font-weight="bold" font-size="37.92">Average&#160;SV&#160;(mL)</text></g>
<g id="p5_yl" transform="translate(33.6 1847.6) rotate(-90) scale(0.9991 1.03)"><text x="-2.58 25.25 35.95 48.78 61.61 83.03 98.03 119.45 142.99 164.41 185.84 196.54 222.24 247.94 258.64 284.34 310.03 333.57 344.27 357.1 391.36 414.89" y="0" font-weight="bold" font-size="38.53">Difference&#160;SV&#160;PET&#160;(mL)</text></g>
<g id="p5_t1" transform="translate(144.3 1364.4) scale(1.0084 1.03)"><text x="-3.12 22.23 30.67 51.8 70.8 81.36 103.55 114.11 126.77 147.9 158.46 179.59 190.15 221.8" y="0" font-weight="normal" font-size="38">Bias&#160;=&#160;-2.4&#160;mL</text></g>
<g id="p5_t2" transform="translate(144.3 1408.2) scale(0.9931 1.03)"><text x="-3.12 24.33 49.67 77.11 87.67 109.86 120.42 141.55 162.69 173.25 194.38 226.03" y="0" font-weight="normal" font-size="38">RPC&#160;=&#160;20.&#160;mL</text><path d="M187.4 0L184.06 0L184.06 -20.37Q182.86 -19.26 180.89 -18.17Q178.94 -17.07 177.38 -16.51L177.38 -19.61Q180.18 -20.86 182.28 -22.66Q184.38 -24.46 185.25 -26.14L187.4 -26.14Z"/></g>
<g id="p6_yt40" transform="translate(772.71 1379.96) scale(1.0000 1.03)"><text x="-0.56 20.13" y="0" font-weight="bold" font-size="37.2">40</text></g>
<g id="p6_yt20" transform="translate(773.44 1502.49) scale(1.0000 1.03)"><text x="-1.29 19.4" y="0" font-weight="bold" font-size="37.2">20</text></g>
<g id="p6_yt0" transform="translate(794.31 1625.01) scale(1.0000 1.03)"><text x="-1.47" y="0" font-weight="bold" font-size="37.2">0</text></g>
<g id="p6_yt-20" transform="translate(761.21 1747.54) scale(1.0000 1.03)"><text x="-1.45 10.93 31.62" y="0" font-weight="bold" font-size="37.2">-20</text></g>
<g id="p6_yt-40" transform="translate(761.21 1870.06) scale(1.0000 1.03)"><text x="-1.45 10.93 31.62" y="0" font-weight="bold" font-size="37.2">-40</text></g>
<g id="p6_xt0" transform="translate(829.35 1918.04) scale(1.0000 1.03)"><text x="-1.47" y="0" font-weight="bold" font-size="37.2">0</text></g>
<g id="p6_xt50" transform="translate(941.22 1918.04) scale(1.0000 1.03)"><text x="-1.14 19.54" y="0" font-weight="bold" font-size="37.2">50</text></g>
<g id="p6_xt100" transform="translate(1053.35 1918.04) scale(1.0000 1.03)"><text x="-2.34 18.35 39.03" y="0" font-weight="bold" font-size="37.2">&#160;00</text><path d="M12.37 0L7.27 0L7.27 -18.4Q4.47 -15.91 0.67 -14.71L0.67 -19.14Q2.67 -19.76 5.01 -21.51Q7.36 -23.25 8.23 -25.56L12.37 -25.56Z"/></g>
<g id="p6_xt150" transform="translate(1175.23 1918.04) scale(1.0000 1.03)"><text x="-2.34 18.35 39.03" y="0" font-weight="bold" font-size="37.2">&#160;50</text><path d="M12.37 0L7.27 0L7.27 -18.4Q4.47 -15.91 0.67 -14.71L0.67 -19.14Q2.67 -19.76 5.01 -21.51Q7.36 -23.25 8.23 -25.56L12.37 -25.56Z"/></g>
<g id="p6_xt200" transform="translate(1297.57 1918.04) scale(1.0000 1.03)"><text x="-1.29 19.4 40.09" y="0" font-weight="bold" font-size="37.2">200</text></g>
<g id="p6_xl" transform="translate(923.9 1973.7) scale(1.0006 1.03)"><text x="-1 27.93 50.21 72.49 88.09 110.37 134.84 157.12 168.25 194.97 221.69 232.82 246.16 281.78 306.25" y="0" font-weight="bold" font-size="40.06">Average&#160;SV&#160;(mL)</text></g>
<g id="p6_yl" transform="translate(738 1837.5) rotate(-90) scale(0.9991 1.03)"><text x="-2.68 26.29 37.44 50.8 64.16 86.48 102.09 124.41 148.92 171.23 193.55 204.69 231.46 258.22 269.37 298.34 331.77 360.74 371.89 385.25 420.93 445.44" y="0" font-weight="bold" font-size="40.12">Difference&#160;SV&#160;CMR&#160;(mL)</text></g>
<g id="p6_t1" transform="translate(858.3 1394.8) scale(1.0111 1.03)"><text x="-3.31 23.63 32.61 55.08 75.28 86.5 110.09 121.32 134.77 157.24 168.46 190.93 202.16 235.81" y="0" font-weight="normal" font-size="40.4">Bias&#160;=&#160;-&#160;.0&#160;mL</text><path d="M149.82 0L146.27 0L146.27 -21.66Q144.99 -20.48 142.9 -19.31Q140.83 -18.15 139.17 -17.56L139.17 -20.85Q142.15 -22.17 144.38 -24.09Q146.61 -26 147.53 -27.79L149.82 -27.79Z"/></g>
<g id="p6_t2" transform="translate(858.3 1440.7) scale(0.9873 1.03)"><text x="-3.31 25.86 52.81 81.98 93.21 116.8 128.03 150.49 172.96 184.19 206.66 217.88 251.53" y="0" font-weight="normal" font-size="40.4">RPC&#160;=&#160;&#160;&#160;.2&#160;mL</text><path d="M143.08 0L139.53 0L139.53 -21.66Q138.24 -20.48 136.15 -19.31Q134.08 -18.15 132.42 -17.56L132.42 -20.85Q135.4 -22.17 137.63 -24.09Q139.86 -26 140.79 -27.79L143.08 -27.79ZM165.55 0L161.99 0L161.99 -21.66Q160.71 -20.48 158.62 -19.31Q156.55 -18.15 154.89 -17.56L154.89 -20.85Q157.87 -22.17 160.1 -24.09Q162.33 -26 163.26 -27.79L165.55 -27.79Z"/></g>
<g id="p7_yt20" transform="translate(72.42 2048.31) scale(1.0000 1.03)"><text x="-1.3 19.61" y="0" font-weight="bold" font-size="37.6">20</text></g>
<g id="p7_yt10" transform="translate(73.49 2170.68) scale(1.0000 1.03)"><text x="-2.37 18.54" y="0" font-weight="bold" font-size="37.6">&#160;0</text><path d="M12.5 0L7.34 0L7.34 -18.6Q4.52 -16.08 0.68 -14.87L0.68 -19.35Q2.7 -19.98 5.07 -21.74Q7.44 -23.5 8.32 -25.83L12.5 -25.83Z"/></g>
<g id="p7_yt0" transform="translate(93.52 2293.06) scale(1.0000 1.03)"><text x="-1.49" y="0" font-weight="bold" font-size="37.6">0</text></g>
<g id="p7_yt-10" transform="translate(60.07 2415.43) scale(1.0000 1.03)"><text x="-1.47 11.05 31.96" y="0" font-weight="bold" font-size="37.6">-&#160;0</text><path d="M25.92 0L20.76 0L20.76 -18.6Q17.94 -16.08 14.1 -14.87L14.1 -19.35Q16.12 -19.98 18.49 -21.74Q20.86 -23.5 21.74 -25.83L25.92 -25.83Z"/></g>
<g id="p7_yt-20" transform="translate(60.07 2537.81) scale(1.0000 1.03)"><text x="-1.47 11.05 31.96" y="0" font-weight="bold" font-size="37.6">-20</text></g>
<g id="p7_xt0" transform="translate(129.56 2586.53) scale(1.0000 1.03)"><text x="-1.49" y="0" font-weight="bold" font-size="37.6">0</text></g>
<g id="p7_xt20" transform="translate(241.46 2586.53) scale(1.0000 1.03)"><text x="-1.3 19.61" y="0" font-weight="bold" font-size="37.6">20</text></g>
<g id="p7_xt40" transform="translate(363.04 2586.53) scale(1.0000 1.03)"><text x="-0.57 20.34" y="0" font-weight="bold" font-size="37.6">40</text></g>
<g id="p7_xt60" transform="translate(485.9 2586.53) scale(1.0000 1.03)"><text x="-1.38 19.53" y="0" font-weight="bold" font-size="37.6">60</text></g>
<g id="p7_xt80" transform="translate(607.26 2586.53) scale(1.0000 1.03)"><text x="-1.19 19.72" y="0" font-weight="bold" font-size="37.6">80</text></g>
<g id="p7_xl" transform="translate(234.3 2642) scale(0.9980 1.03)"><text x="-1.02 28.44 51.13 73.82 89.7 112.38 137.3 159.99 171.33 198.54 223.45 234.79 248.37 284.65" y="0" font-weight="bold" font-size="40.79">Average&#160;EF&#160;(%)</text></g>
<g id="p7_yl" transform="translate(37.2 2490.6) rotate(-90) scale(1.0009 1.03)"><text x="-2.73 26.73 38.07 51.66 65.24 87.93 103.81 126.5 151.42 174.11 196.8 208.13 235.35 260.27 271.6 298.82 326.03 350.95 362.28 375.87 412.15" y="0" font-weight="bold" font-size="40.8">Difference&#160;EF&#160;PET&#160;(%)</text></g>
<g id="p7_t1" transform="translate(167 2059.9) scale(1.0231 1.03)"><text x="-3.31 23.63 32.61 55.08 75.28 86.5 110.09 121.32 134.77 157.24 168.46 190.93 202.16" y="0" font-weight="normal" font-size="40.4">Bias&#160;=&#160;-&#160;.5&#160;%</text><path d="M149.82 0L146.27 0L146.27 -21.66Q144.99 -20.48 142.9 -19.31Q140.83 -18.15 139.17 -17.56L139.17 -20.85Q142.15 -22.17 144.38 -24.09Q146.61 -26 147.53 -27.79L149.82 -27.79Z"/></g>
<g id="p7_t2" transform="translate(167 2106.6) scale(1.0092 1.03)"><text x="-3.31 25.86 52.81 81.98 93.21 116.8 128.03 150.49 161.72 184.19 195.41" y="0" font-weight="normal" font-size="40.4">RPC&#160;=&#160;8.5&#160;%</text></g>
<g id="p8_yt20" transform="translate(771.94 2048.16) scale(1.0000 1.03)"><text x="-1.29 19.4" y="0" font-weight="bold" font-size="37.2">20</text></g>
<g id="p8_yt10" transform="translate(772.99 2170.54) scale(1.0000 1.03)"><text x="-2.34 18.35" y="0" font-weight="bold" font-size="37.2">&#160;0</text><path d="M12.37 0L7.27 0L7.27 -18.4Q4.47 -15.91 0.67 -14.71L0.67 -19.14Q2.67 -19.76 5.01 -21.51Q7.36 -23.25 8.23 -25.56L12.37 -25.56Z"/></g>
<g id="p8_yt0" transform="translate(792.81 2292.91) scale(1.0000 1.03)"><text x="-1.47" y="0" font-weight="bold" font-size="37.2">0</text></g>
<g id="p8_yt-10" transform="translate(759.71 2415.29) scale(1.0000 1.03)"><text x="-1.45 10.93 31.62" y="0" font-weight="bold" font-size="37.2">-&#160;0</text><path d="M25.65 0L20.54 0L20.54 -18.4Q17.75 -15.91 13.95 -14.71L13.95 -19.14Q15.95 -19.76 18.29 -21.51Q20.63 -23.25 21.51 -25.56L25.65 -25.56Z"/></g>
<g id="p8_yt-20" transform="translate(759.71 2537.66) scale(1.0000 1.03)"><text x="-1.45 10.93 31.62" y="0" font-weight="bold" font-size="37.2">-20</text></g>
<g id="p8_xt0" transform="translate(828.55 2586.24) scale(1.0000 1.03)"><text x="-1.47" y="0" font-weight="bold" font-size="37.2">0</text></g>
<g id="p8_xt20" transform="translate(940.34 2586.24) scale(1.0000 1.03)"><text x="-1.29 19.4" y="0" font-weight="bold" font-size="37.2">20</text></g>
<g id="p8_xt40" transform="translate(1061.71 2586.24) scale(1.0000 1.03)"><text x="-0.56 20.13" y="0" font-weight="bold" font-size="37.2">40</text></g>
<g id="p8_xt60" transform="translate(1184.33 2586.24) scale(1.0000 1.03)"><text x="-1.36 19.33" y="0" font-weight="bold" font-size="37.2">60</text></g>
<g id="p8_xt80" transform="translate(1306.46 2586.24) scale(1.0000 1.03)"><text x="-1.18 19.51" y="0" font-weight="bold" font-size="37.2">80</text></g>
<g id="p8_xl" transform="translate(932.8 2641.8) scale(1.0007 1.03)"><text x="-1.01 28.39 51.03 73.67 89.51 112.16 137.03 159.67 170.98 198.13 223 234.31 247.87 284.07" y="0" font-weight="bold" font-size="40.71">Average&#160;EF&#160;(%)</text></g>
<g id="p8_yl" transform="translate(737.5 2493.6) rotate(-90) scale(1.0005 1.03)"><text x="-2.7 26.45 37.66 51.1 64.55 86.99 102.7 125.15 149.8 172.25 194.7 205.91 232.84 257.49 268.7 297.85 331.48 360.62 371.84 385.28 421.17" y="0" font-weight="bold" font-size="40.36">Difference&#160;EF&#160;CMR&#160;(%)</text></g>
<g id="p8_t1" transform="translate(856.9 2057.9) scale(1.0223 1.03)"><text x="-3.31 23.63 32.61 55.08 75.28 86.5 110.09 121.32 134.77 157.24 168.46 190.93 202.16" y="0" font-weight="normal" font-size="40.4">Bias&#160;=&#160;-&#160;.6&#160;%</text><path d="M149.82 0L146.27 0L146.27 -21.66Q144.99 -20.48 142.9 -19.31Q140.83 -18.15 139.17 -17.56L139.17 -20.85Q142.15 -22.17 144.38 -24.09Q146.61 -26 147.53 -27.79L149.82 -27.79Z"/></g>
<g id="p8_t2" transform="translate(857.9 2103.5) scale(1.0057 1.03)"><text x="-3.31 25.86 52.81 81.98 93.21 116.8 128.03 150.49 161.72 184.19 195.41" y="0" font-weight="normal" font-size="40.4">RPC&#160;=&#160;5.&#160;&#160;%</text><path d="M176.77 0L173.22 0L173.22 -21.66Q171.94 -20.48 169.85 -19.31Q167.77 -18.15 166.12 -17.56L166.12 -20.85Q169.1 -22.17 171.33 -24.09Q173.55 -26 174.48 -27.79L176.77 -27.79Z"/></g>
</g>
</svg>
</body></html>
